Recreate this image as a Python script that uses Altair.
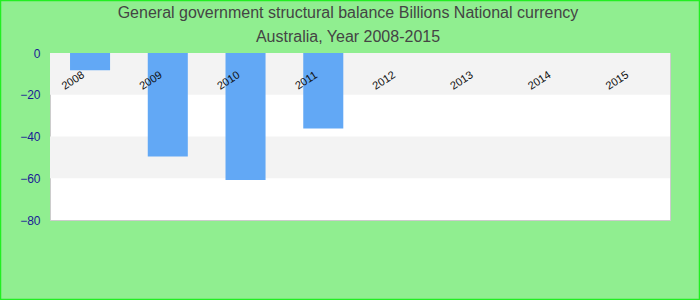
import altair as alt
import pandas as pd

years = ["2008", "2009", "2010", "2011", "2012", "2013", "2014", "2015"]
values = [-8.3, -49.6, -60.8, -36.2, None, None, None, None]
band_top = [0, -40]
band_bottom = [-20, -60]
title_lines = ["General government structural balance Billions National currency",
               "Australia, Year 2008-2015"]
title_y = [-34.7, -11.3]

df = pd.DataFrame({"year": years, "value": values})
bands = pd.DataFrame({"top": band_top, "bottom": band_bottom})
frame = pd.DataFrame({"k": [0]})

yscale = alt.Scale(domain=[-80, 0], nice=False)
xscale = alt.Scale(domain=years, paddingInner=0.485, paddingOuter=0.23, align=0.56)

border = alt.Chart(frame).mark_rect(
    fill=None, stroke="#22ee22", strokeWidth=1.5
).encode(
    x=alt.value(-49.5), x2=alt.value(649.5),
    y=alt.value(-52.5), y2=alt.value(246.5),
)

band_layer = alt.Chart(bands).mark_rect(color="#f3f3f3").encode(
    y=alt.Y("top:Q", scale=yscale,
            axis=alt.Axis(values=[0, -20, -40, -60, -80], grid=False, ticks=False,
                          domain=False, labelColor="#1a1a96", labelFontSize=12,
                          labelFont="Liberation Sans", labelPadding=10, title=None)),
    y2="bottom:Q",
    x=alt.value(0),
    x2=alt.value(620),
)

bars = alt.Chart(df).mark_bar(color="#62a8f5").encode(
    x=alt.X("year:N", scale=xscale, axis=None, sort=years),
    y=alt.Y("value:Q", scale=yscale),
    y2=alt.datum(0),
)

labels = alt.Chart(df).mark_text(
    angle=327, fontSize=11, font="Liberation Sans", color="#111111", dx=-20
).encode(
    x=alt.X("year:N", scale=xscale, axis=None, sort=years),
    y=alt.value(17),
    text="year:N",
)

title_df = pd.DataFrame({"t": title_lines, "ty": title_y})
title_layer = alt.Chart(title_df).mark_text(
    fontSize=16, font="Liberation Sans", color="#444444",
    align="center", baseline="alphabetic"
).encode(
    x=alt.value(298),
    y=alt.Y("ty:Q", scale=None),
    text="t:N",
)

chart = alt.layer(border, band_layer, bars, labels, title_layer).properties(
    width=620,
    height=167,
    autosize=alt.AutoSizeParams(type="none"),
    padding={"left": 50, "top": 53, "right": 30, "bottom": 80},
    background="#90ee90",
).configure_view(fill="white", stroke="#cccccc", strokeWidth=1)

chart.save("out.html", embed_options={"renderer": "svg", "actions": False})
